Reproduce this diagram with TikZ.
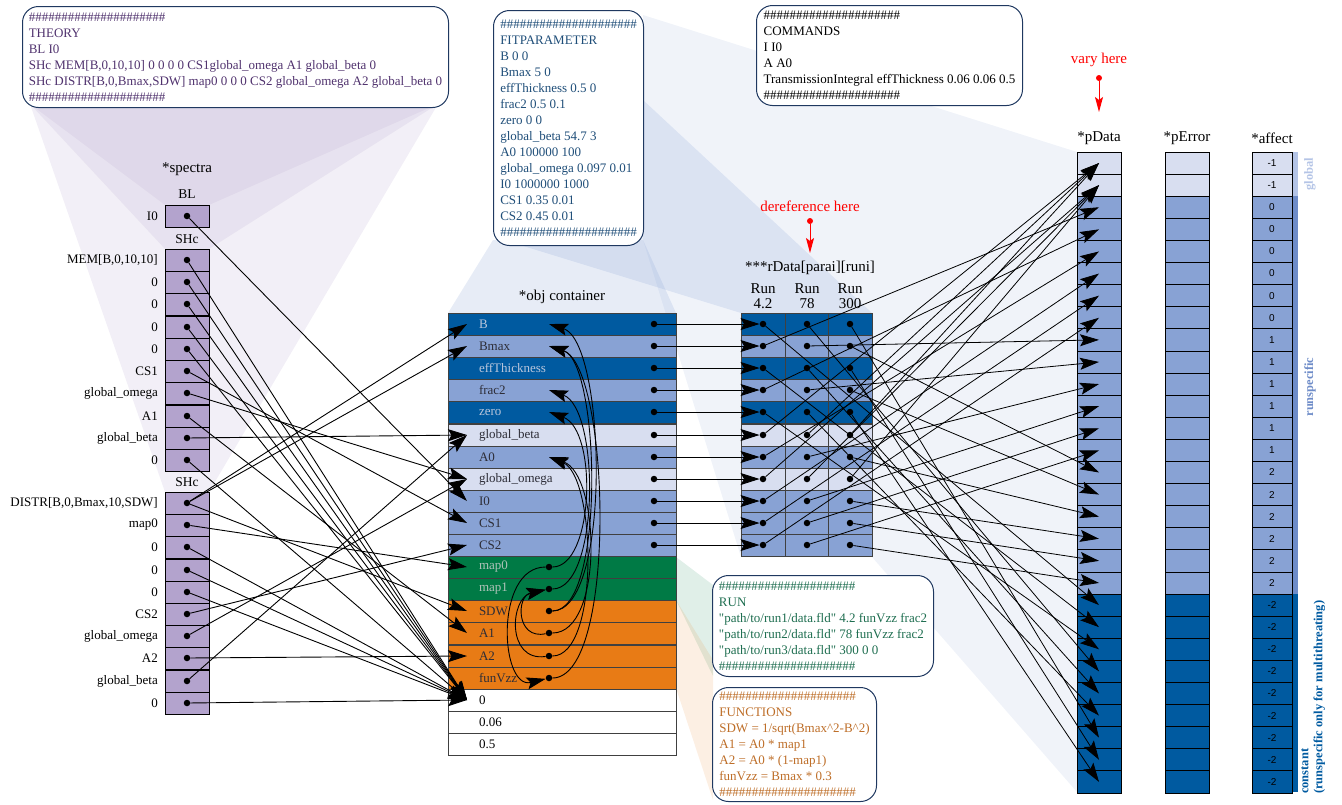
\documentclass[tikz,border=0pt]{standalone}
\usepackage{fontspec}
\setmainfont{Liberation Serif}
\newfontfamily\sansnum{Liberation Sans}
\usetikzlibrary{arrows.meta}
\usetikzlibrary{positioning}

\definecolor{dkblue}{RGB}{0,90,160}
\definecolor{mdblue}{RGB}{136,162,212}
\definecolor{ltblue}{RGB}{216,222,240}
\definecolor{objgreen}{RGB}{0,122,69}
\definecolor{objorange}{RGB}{232,123,21}
\definecolor{specpurple}{RGB}{179,163,205}
\definecolor{boxborder}{RGB}{31,56,96}
\definecolor{theorytext}{RGB}{80,50,110}
\definecolor{fittext}{RGB}{31,78,121}
\definecolor{runtext}{RGB}{30,110,80}
\definecolor{functext}{RGB}{190,110,40}
\definecolor{ondark}{RGB}{185,198,220}
\definecolor{onlight}{RGB}{45,45,55}
\definecolor{ongreen}{RGB}{175,195,185}
\definecolor{globalbar}{RGB}{180,196,230}
\definecolor{runbar}{RGB}{110,140,200}

\newcommand{\hashrow}{\#\#\#\#\#\#\#\#\#\#\#\#\#\#\#\#\#\#\#\#\#}
\newcommand{\qq}{\textquotedbl}

\begin{document}
\begin{tikzpicture}[x=1pt,y=-1pt,
  font=\fontsize{13}{15}\selectfont,
  arr/.style={-{Stealth[length=19pt,width=12pt,inset=3.5pt]},line width=0.9pt},
  thinarr/.style={-{Stealth[length=19pt,width=12pt,inset=3.5pt]},line width=0.8pt},
  redarr/.style={-{Stealth[length=15pt,width=8pt,inset=3pt]},draw=red,line width=1pt},
  dot/.style={circle,fill=black,inner sep=0pt,minimum size=6.5pt},
  reddot/.style={circle,fill=red,inner sep=0pt,minimum size=6pt},
  speccell/.style={rectangle,draw=black,line width=0.8pt,fill=specpurple,minimum width=44pt,minimum height=22.2pt,inner sep=0pt},
  speclabel/.style={anchor=east,inner sep=0pt},
  objrow/.style={rectangle,draw=black!75,line width=0.7pt,minimum width=228pt,minimum height=22.1pt,inner sep=0pt,text width=166pt,align=left},
  rcell/.style={rectangle,draw=black!75,line width=0.7pt,minimum width=43.7pt,minimum height=22.1pt,inner sep=0pt},
  pcell/.style={rectangle,draw=black,line width=0.7pt,minimum width=44pt,minimum height=22.1pt,inner sep=0pt},
  acell/.style={pcell,minimum width=40pt,font=\sansnum\fontsize{10}{10}\selectfont},
  heading/.style={font=\fontsize{15}{15}\selectfont},
  subhead/.style={font=\fontsize{13.5}{14}\selectfont},
  sidelbl/.style={rotate=90,inner sep=0pt,font=\bfseries\fontsize{12.5}{14}\selectfont},
  codebox/.style={rectangle,rounded corners=16pt,draw=boxborder,line width=1pt,fill=white,align=left,anchor=north west,inner xsep=6pt,inner ysep=2pt,font=\fontsize{13}{16}\selectfont},
  fanpurple/.style={fill=specpurple,opacity=0.17},
  fanblue/.style={fill=mdblue,opacity=0.2},
  fanpale/.style={fill=mdblue,opacity=0.13},
  fangreen/.style={fill=objgreen,opacity=0.12},
  fanorange/.style={fill=objorange,opacity=0.12}]

\useasboundingbox (0,0) rectangle (1342,804);

\fill[fanpurple] (30,104) -- (438,104) -- (209,205) -- (165,205) -- cycle;
\fill[fanpurple] (30,104) -- (438,104) -- (209,249) -- (165,249) -- cycle;
\fill[fanpurple] (30,104) -- (438,104) -- (209,492) -- (165,492) -- cycle;
\fill[fanpale] (643,15) -- (1077,152) -- (1077,792) -- (872,557) -- (741,557) -- (643,240) -- cycle;
\fill[fanblue] (493,240) -- (643,240) -- (676,313) -- (448,313) -- cycle;
\fill[fanblue] (520,245) -- (643,100) -- (872,313) -- (741,313) -- cycle;
\fill[fangreen] (676,557) -- (713,585) -- (713,676) -- (676,600) -- cycle;
\fill[fanorange] (676,600) -- (713,660) -- (713,800) -- (676,688) -- cycle;

\node at (22,6)[codebox,text=theorytext,minimum width=426pt,minimum height=101pt](theory){\hashrow\\THEORY\\BL I0\\SHc MEM[B,0,10,10] 0 0 0 0 CS1global\_omega A1 global\_beta 0\\SHc DISTR[B,0,Bmax,SDW] map0 0 0 0 CS2 global\_omega A2 global\_beta 0\\\hashrow};
\node at (493,10)[codebox,text=fittext,minimum width=150pt,minimum height=235pt](fitpar){\hashrow\\FITPARAMETER\\B 0 0\\Bmax 5 0\\effThickness 0.5 0\\frac2 0.5 0.1\\zero 0 0\\global\_beta 54.7 3\\A0 100000 100\\global\_omega 0.097 0.01\\I0 1000000 1000\\CS1 0.35 0.01\\CS2 0.45 0.01\\\hashrow};
\node at (756,5)[codebox,text=black,minimum width=266pt,minimum height=100pt](commands){\hashrow\\COMMANDS\\I I0\\A A0\\TransmissionIntegral effThickness 0.06 0.06 0.5\\\hashrow};
\node at (712,575)[codebox,text=runtext,minimum width=221pt,minimum height=101pt](runbox){\hashrow\\RUN\\\qq path/to/run1/data.fld\qq{} 4.2 funVzz frac2\\\qq path/to/run2/data.fld\qq{} 78 funVzz frac2\\\qq path/to/run3/data.fld\qq{} 300 0 0\\\hashrow};
\node at (712,687)[codebox,text=functext,minimum width=164pt,minimum height=114pt](funcbox){\hashrow\\FUNCTIONS\\SDW = 1/sqrt(Bmax\textasciicircum 2-B\textasciicircum 2)\\A1 = A0 * map1\\A2 = A0 * (1-map1)\\funVzz = Bmax * 0.3\\\hashrow};

\node at (187,169)[heading](spechead){*spectra};
\node at (187,194)[subhead](blhead){BL};
\node at (187,239)[subhead](shcahead){SHc};
\node at (187,482)[subhead](shcbhead){SHc};
\node at (187,216)[speccell](sI0){};
\node at (187,216)[dot](dsI0){};
\node at (158,216)[speclabel]{I0};
\foreach \i/\yy/\lab in {1/260/{MEM[B,0,10,10]},2/282/0,3/304/0,4/327/0,5/349/0,6/371/CS1,7/393/{global\_omega},8/416/A1,9/438/{global\_beta},10/460/0}{
  \node at (187,\yy)[speccell](sa\i){};
  \node at (187,\yy)[dot](da\i){};
  \node at (158,\yy)[speclabel]{\lab};
}
\foreach \i/\yy/\lab in {1/503/{DISTR[B,0,Bmax,10,SDW]},2/525/map0,3/547/0,4/570/0,5/592/0,6/614/CS2,7/636/{global\_omega},8/658/A2,9/681/{global\_beta},10/703/0}{
  \node at (187,\yy)[speccell](sb\i){};
  \node at (187,\yy)[dot](db\i){};
  \node at (158,\yy)[speclabel]{\lab};
}

\node at (562,297)[heading](objhead){*obj container};
\node at (562,324)[objrow,fill=dkblue,text=ondark](oB){B};
\node at (562,346)[objrow,fill=mdblue,text=onlight](oBmax){Bmax};
\node at (562,368)[objrow,fill=dkblue,text=ondark](oeff){effThickness};
\node at (562,390)[objrow,fill=mdblue,text=onlight](ofrac2){frac2};
\node at (562,412)[objrow,fill=dkblue,text=ondark](ozero){zero};
\node at (562,435)[objrow,fill=ltblue,text=onlight](ogbeta){global\_beta};
\node at (562,457)[objrow,fill=mdblue,text=onlight](oA0){A0};
\node at (562,479)[objrow,fill=ltblue,text=onlight](ogomega){global\_omega};
\node at (562,501)[objrow,fill=mdblue,text=onlight](oI0){I0};
\node at (562,523)[objrow,fill=mdblue,text=onlight](oCS1){CS1};
\node at (562,545)[objrow,fill=mdblue,text=onlight](oCS2){CS2};
\node at (562,567)[objrow,fill=objgreen,text=ongreen](omap0){map0};
\node at (562,589)[objrow,fill=objgreen,text=ongreen](omap1){map1};
\node at (562,611)[objrow,fill=objorange,text=onlight](oSDW){SDW};
\node at (562,633)[objrow,fill=objorange,text=onlight](oA1){A1};
\node at (562,656)[objrow,fill=objorange,text=onlight](oA2){A2};
\node at (562,678)[objrow,fill=objorange,text=onlight](ofunVzz){funVzz};
\node at (562,700)[objrow,fill=white,text=black](ozeroc){0};
\node at (562,722)[objrow,fill=white,text=black](o006){0.06};
\node at (562,744)[objrow,fill=white,text=black](o05){0.5};
\foreach \nm/\yy in {B/324,Bmax/346,eff/368,frac2/390,zero/412,gbeta/435,A0/457,gomega/479,I0/501,CS1/523,CS2/545}
  \node at (654,\yy)[dot](od\nm){};
\foreach \nm/\yy in {map0/567,map1/589,SDW/611,A1/633,A2/656,funVzz/678}
  \node at (549,\yy)[dot](f\nm){};
\foreach \nm/\yy in {B/324,Bmax/346,gbeta/435,gomega/479,I0/501,CS1/523,CS2/545,map0/567,SDW/611,A1/633,A2/656,zeroc/700}
  \coordinate (i\nm) at (467,\yy);
\foreach \nm/\yy in {B/324,Bmax/346,frac2/390,zero/412,A0/457}
  \coordinate (c\nm) at (549,\yy);

\node at (810,268)[heading](rhead){***rData[parai][runi]};
\node at (763,296)[heading,align=center](runa){Run\\4.2};
\node at (807,296)[heading,align=center](runb){Run\\78};
\node at (850,296)[heading,align=center](runc){Run\\300};
\foreach \row/\yy/\cc in {0/324/dkblue,1/346/mdblue,2/368/dkblue,3/390/mdblue,4/412/dkblue,5/435/ltblue,6/457/mdblue,7/479/ltblue,8/501/mdblue,9/523/mdblue,10/545/mdblue}{
  \foreach \col/\xx in {1/763,2/807,3/850}{
    \node at (\xx,\yy)[rcell,fill=\cc](rc\row-\col){};
    \node at (\xx,\yy)[dot](rd\row-\col){};
  }
}

\node at (1099,138)[heading](pdhead){*pData};
\node at (1187,138)[heading](pehead){*pError};
\node at (1272,138)[heading](afhead){*affect};
\fill[globalbar] (1292,152) rectangle (1298,196);
\fill[runbar] (1292,196) rectangle (1298,594);
\fill[dkblue] (1292,594) rectangle (1298,792);
\foreach \idx/\val/\cc in {0/-1/ltblue,1/-1/ltblue,2/0/mdblue,3/0/mdblue,4/0/mdblue,5/0/mdblue,6/0/mdblue,7/0/mdblue,8/1/mdblue,9/1/mdblue,10/1/mdblue,11/1/mdblue,12/1/mdblue,13/1/mdblue,14/2/mdblue,15/2/mdblue,16/2/mdblue,17/2/mdblue,18/2/mdblue,19/2/mdblue,20/-2/dkblue,21/-2/dkblue,22/-2/dkblue,23/-2/dkblue,24/-2/dkblue,25/-2/dkblue,26/-2/dkblue,27/-2/dkblue,28/-2/dkblue}{
  \pgfmathsetmacro{\yy}{163.05+22.1*\idx}
  \node at (1099,\yy)[pcell,fill=\cc](pd\idx){};
  \node at (1187,\yy)[pcell,fill=\cc](pe\idx){};
  \node at (1272,\yy)[acell,fill=\cc](af\idx){\val};
}
\node at (1310,174)[sidelbl,text=globalbar](globallbl){global};
\node at (1310,387)[sidelbl,text=runbar](runlbl){runspecific};
\node at (1301,794)[sidelbl,anchor=north west,align=left,text=dkblue](constlbl){constant\\(runspecific only for multithreating)};

\node at (810,206)[heading,text=red](dereflbl){dereference here};
\node at (810,221)[reddot](derefdot){};
\coordinate (dereftip) at (810,253);
\draw[redarr] (derefdot) -- (dereftip);
\node at (1099,60)[heading,text=red](varylbl){vary here};
\node at (1099,78)[reddot](varydot){};
\coordinate (varytip) at (1099,112);
\draw[redarr] (varydot) -- (varytip);

\draw[arr] (dsI0) -- (iI0);
\foreach \i in {1,2,3,4,5,10}
  \draw[arr] (da\i) -- (izeroc);
\draw[arr] (da6) -- (iCS1);
\draw[arr] (da7) -- (igomega);
\draw[arr] (da8) -- (iA1);
\draw[arr] (da9) -- (igbeta);
\draw[arr] (db1) -- (iB);
\draw[arr] (db1) -- (iBmax);
\draw[arr] (db1) -- (iSDW);
\draw[arr] (db2) -- (imap0);
\foreach \i in {3,4,5,10}
  \draw[arr] (db\i) -- (izeroc);
\draw[arr] (db6) -- (iCS2);
\draw[arr] (db7) -- (igomega);
\draw[arr] (db8) -- (iA2);
\draw[arr] (db9) -- (igbeta);

\draw[arr] (fSDW) .. controls (612,611) and (606,342) .. (cB);
\draw[arr] (fSDW) .. controls (606,611) and (600,362) .. (cBmax);
\draw[arr] (ffunVzz) .. controls (618,678) and (610,366) .. (cBmax);
\draw[arr] (fmap1) .. controls (600,589) and (600,408) .. (cfrac2);
\draw[arr] (fmap0) .. controls (594,567) and (598,430) .. (czero);
\draw[arr] (fA1) .. controls (604,633) and (600,474) .. (cA0);
\draw[arr] (fA2) .. controls (600,656) and (596,476) .. (cA0);
\draw[arr] (fmap0) .. controls (494,567) and (500,690) .. (ffunVzz);
\draw[arr] (fA1) .. controls (516,640) and (516,596) .. (fmap1);
\draw[arr] (fA2) .. controls (506,662) and (510,598) .. (fmap1);

\foreach \nm/\row in {B/0,Bmax/1,eff/2,frac2/3,zero/4,gbeta/5,A0/6,gomega/7,I0/8,CS1/9,CS2/10}
  \draw[arr] (od\nm) -- (rd\row-1);

\foreach \row/\pidx in {5/0,7/1}{
  \foreach \col in {1,2,3}
    \draw[thinarr] (rd\row-\col) -- (pd\pidx.center);
}
\foreach \row/\idx in {1/0,3/1,6/2,8/3,9/4,10/5}{
  \foreach \col in {1,2,3}{
    \pgfmathtruncatemacro{\pidx}{2+6*(\col-1)+\idx}
    \draw[thinarr] (rd\row-\col) -- (pd\pidx.center);
  }
}
\foreach \row/\idx in {0/0,2/1,4/2}{
  \foreach \col in {1,2,3}{
    \pgfmathtruncatemacro{\pidx}{20+3*(\col-1)+\idx}
    \draw[thinarr] (rd\row-\col) -- (pd\pidx.center);
  }
}
\end{tikzpicture}
\end{document}
